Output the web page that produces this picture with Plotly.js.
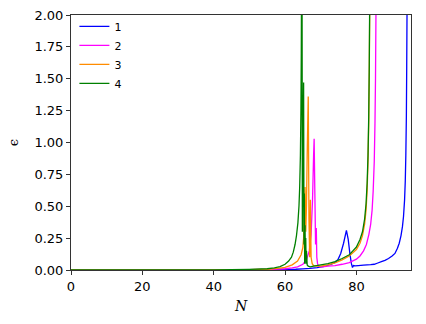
<!DOCTYPE html>
<html>
<head>
<meta charset="utf-8">
<script src="https://cdn.plot.ly/plotly-3.0.1.min.js"></script>
<style>
  html, body { margin: 0; padding: 0; background: #fff; }
  #plotArea { width: 426px; height: 324px; }
</style>
</head>
<body>
<div id="plotArea"></div>
<script>
// values (epsilon vs N), one pair of arrays per series
let n1 = [0, 10, 20, 30, 40, 50, 55, 60, 63, 65, 67, 69, 71, 73, 74, 74.8, 75.6, 76.4, 77.2, 77.7, 78.2, 78.6, 78.9, 79.2, 79.6, 80.5, 82, 84, 85, 86, 87, 88, 89, 90, 90.8, 91.5, 92, 92.5, 92.9, 93.2, 93.5, 93.7, 93.85, 94.0, 94.1, 94.2, 94.3];
let eps1 = [0, 0, 0, 0, 0.0005, 0.001, 0.002, 0.004, 0.006, 0.009, 0.013, 0.019, 0.028, 0.045, 0.06, 0.08, 0.13, 0.21, 0.31, 0.24, 0.12, 0.05, 0.02, 0.035, 0.032, 0.035, 0.038, 0.042, 0.045, 0.055, 0.065, 0.075, 0.09, 0.11, 0.13, 0.17, 0.21, 0.27, 0.34, 0.42, 0.55, 0.7, 0.9, 1.2, 1.6, 2.1, 2.6];

let n2 = [0, 10, 20, 30, 40, 50, 55, 58, 60, 62, 63.5, 65, 66, 66.8, 67.3, 67.7, 68.0, 68.15, 68.35, 68.55, 68.75, 68.9, 69.1, 69.4, 69.8, 70.5, 72, 74, 76, 78, 80, 81, 82, 82.8, 83.5, 84, 84.4, 84.7, 85.0, 85.2, 85.35, 85.5, 85.6];
let eps2 = [0, 0, 0, 0, 0.001, 0.002, 0.004, 0.007, 0.01, 0.016, 0.025, 0.045, 0.08, 0.15, 0.28, 0.55, 0.9, 1.03, 0.6, 0.2, 0.33, 0.1, 0.05, 0.03, 0.025, 0.025, 0.03, 0.035, 0.045, 0.058, 0.085, 0.11, 0.15, 0.2, 0.28, 0.36, 0.47, 0.62, 0.85, 1.15, 1.5, 2.1, 2.6];

let n3 = [0, 10, 20, 30, 40, 50, 55, 58, 60, 62, 63.5, 64.5, 65.0, 65.2, 65.6, 65.8, 66.0, 66.2, 66.5, 66.7, 66.9, 67.1, 67.3, 67.6, 68, 69, 70, 72, 74, 76, 78, 80, 81, 81.7, 82.3, 82.7, 83.0, 83.25, 83.45, 83.6, 83.75, 83.9];
let eps3 = [0, 0, 0, 0, 0.001, 0.003, 0.006, 0.012, 0.02, 0.04, 0.07, 0.12, 0.18, 0.25, 0.65, 0.3, 0.5, 0.9, 1.36, 0.4, 0.1, 0.55, 0.1, 0.05, 0.035, 0.03, 0.03, 0.04, 0.055, 0.08, 0.11, 0.16, 0.21, 0.27, 0.36, 0.47, 0.62, 0.85, 1.15, 1.55, 2.1, 2.6];

let n4 = [0, 10, 20, 30, 40, 45, 50, 55, 57, 58.6, 60, 61, 61.8, 62.3, 62.8, 63.2, 63.6, 63.9, 64.1, 64.3, 64.45, 64.55, 64.65, 64.75, 64.85, 65.0, 65.2, 65.3, 65.4, 65.5, 65.6, 65.7, 65.8, 65.9, 66.0, 66.2, 66.5, 67, 68, 70, 72, 74, 76, 78, 79, 80, 81, 81.7, 82.3, 82.7, 83.0, 83.25, 83.45, 83.6, 83.72, 83.85];
let eps4 = [0, 0, 0, 0, 0.001, 0.002, 0.005, 0.01, 0.016, 0.026, 0.045, 0.07, 0.1, 0.14, 0.2, 0.27, 0.37, 0.5, 0.65, 0.9, 1.25, 1.7, 2.5, 2.5, 0.3, 0.8, 1.47, 0.2, 0.6, 0.05, 0.35, 0.1, 0.25, 0.05, 0.15, 0.04, 0.03, 0.025, 0.03, 0.04, 0.05, 0.065, 0.09, 0.12, 0.15, 0.18, 0.24, 0.3, 0.4, 0.52, 0.68, 0.9, 1.2, 1.6, 2.1, 2.6];

let names = ["1", "2", "3", "4"];
let colors = ["#0000ff", "#ff00ff", "#ff8c00", "#008000"];

let xs = [n1, n2, n3, n4];
let ys = [eps1, eps2, eps3, eps4];

let data = xs.map(function (x, i) {
  return {
    x: x,
    y: ys[i],
    name: names[i],
    mode: "lines",
    type: "scatter",
    line: { color: colors[i], width: 1.3, simplify: false }
  };
});

let axisCommon = {
  showgrid: false,
  zeroline: false,
  showline: true,
  mirror: true,
  linecolor: "#333",
  linewidth: 1,
  ticks: "outside",
  ticklen: 4,
  tickwidth: 1,
  tickcolor: "#333",
  tickfont: { family: "DejaVu Sans", size: 13, color: "#000" }
};

let layout = {
  width: 426,
  height: 324,
  margin: { l: 71, r: 15, t: 15, b: 54 },
  paper_bgcolor: "#fff",
  plot_bgcolor: "#fff",
  showlegend: true,
  legend: {
    x: 0.01, y: 1.012, xanchor: "left", yanchor: "top",
    bgcolor: "rgba(0,0,0,0)",
    borderwidth: 0,
    font: { family: "DejaVu Sans", size: 11, color: "#000" }
  },
  xaxis: Object.assign({}, axisCommon, {
    range: [0, 95.3],
    tickvals: [0, 20, 40, 60, 80],
    title: { text: "<i>N</i>", font: { family: "DejaVu Serif", size: 14, color: "#000" }, standoff: 8 }
  }),
  yaxis: Object.assign({}, axisCommon, {
    range: [0, 2],
    tickvals: [0, 0.25, 0.5, 0.75, 1, 1.25, 1.5, 1.75, 2],
    tickformat: ".2f",
    title: { text: "ϵ", font: { family: "DejaVu Serif", size: 13, color: "#000" }, standoff: 12 }
  })
};

Plotly.newPlot("plotArea", data, layout, { displayModeBar: false, staticPlot: true });
</script>
</body>
</html>
